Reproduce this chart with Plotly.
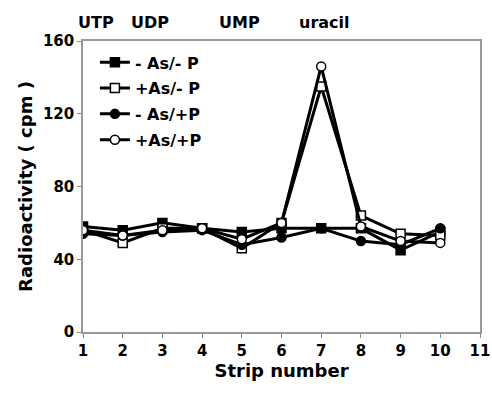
import plotly.graph_objects as go

strips = [1, 2, 3, 4, 5, 6, 7, 8, 9, 10]
neg_as_neg_p = [58, 56, 60, 57, 55, 57, 57, 57, 45, 55]
pos_as_neg_p = [56, 49, 57, 57, 46, 60, 135, 64, 54, 53]
neg_as_pos_p = [54, 53, 55, 56, 48, 52, 57, 50, 48, 57]
pos_as_pos_p = [56, 53, 56, 57, 51, 60, 146, 58, 50, 49]

series = [
    ("- As/- P", neg_as_neg_p, "square", "black"),
    ("+As/- P", pos_as_neg_p, "square", "white"),
    ("- As/+P", neg_as_pos_p, "circle", "black"),
    ("+As/+P", pos_as_pos_p, "circle", "white"),
]

top_labels = ["UTP", "UDP", "UMP", "uracil"]
top_label_x = [1.33, 2.7, 4.95, 7.08]

FONT = "DejaVu Sans"

fig = go.Figure()
for i, (name, vals, sym, fill) in enumerate(series):
    fig.add_trace(go.Scatter(
        x=strips, y=vals, name=f"<b>{name}</b>", mode="lines+markers",
        legendgroup=f"g{i}",
        line=dict(color="black", width=3),
        marker=dict(symbol=sym, size=9, color=fill,
                    line=dict(color="black", width=1.5)),
    ))

for lab, xv in zip(top_labels, top_label_x):
    fig.add_annotation(x=xv, y=1.0, xref="x", yref="paper", yshift=7,
                       yanchor="bottom",
                       text=f"<b>{lab}</b>", showarrow=False,
                       font=dict(family=FONT, size=16, color="black"))

fig.update_layout(
    width=492, height=397,
    margin=dict(l=83, r=12, t=41, b=65),
    paper_bgcolor="white", plot_bgcolor="white",
    font=dict(family=FONT, size=15, color="black"),
    showlegend=True,
    legend=dict(x=0.03, y=0.985, xanchor="left", yanchor="top",
                bgcolor="rgba(0,0,0,0)", tracegroupgap=2,
                font=dict(family=FONT, size=16, color="black")),
    xaxis=dict(range=[1, 11], tickmode="array",
               tickvals=list(range(1, 12)),
               ticktext=[f"<b>{v}</b>" for v in range(1, 12)],
               ticklabeloverflow="allow",
               ticks="outside", ticklen=4, tickcolor="#888",
               showline=True, linecolor="#999", linewidth=1.5, mirror=True,
               showgrid=False, zeroline=False, automargin=False,
               tickfont=dict(family=FONT, size=15, color="black"),
               title=dict(text="<b>Strip number</b>", standoff=4,
                          font=dict(family=FONT, size=18, color="black"))),
    yaxis=dict(range=[0, 160], tickmode="array",
               tickvals=[0, 40, 80, 120, 160],
               ticktext=[f"<b>{v}</b>" for v in [0, 40, 80, 120, 160]],
               ticks="outside", ticklen=4, tickcolor="#888",
               showline=True, linecolor="#999", linewidth=1.5, mirror=True,
               showgrid=False, zeroline=False, automargin=False,
               tickfont=dict(family=FONT, size=15, color="black"),
               title=dict(text="<b>Radioactivity ( cpm )</b>", standoff=6,
                          font=dict(family=FONT, size=18, color="black"))),
)

fig.write_html("out.html",
               config={"displayModeBar": False},
               post_script="document.body.style.margin='0';document.body.style.overflow='hidden';")
